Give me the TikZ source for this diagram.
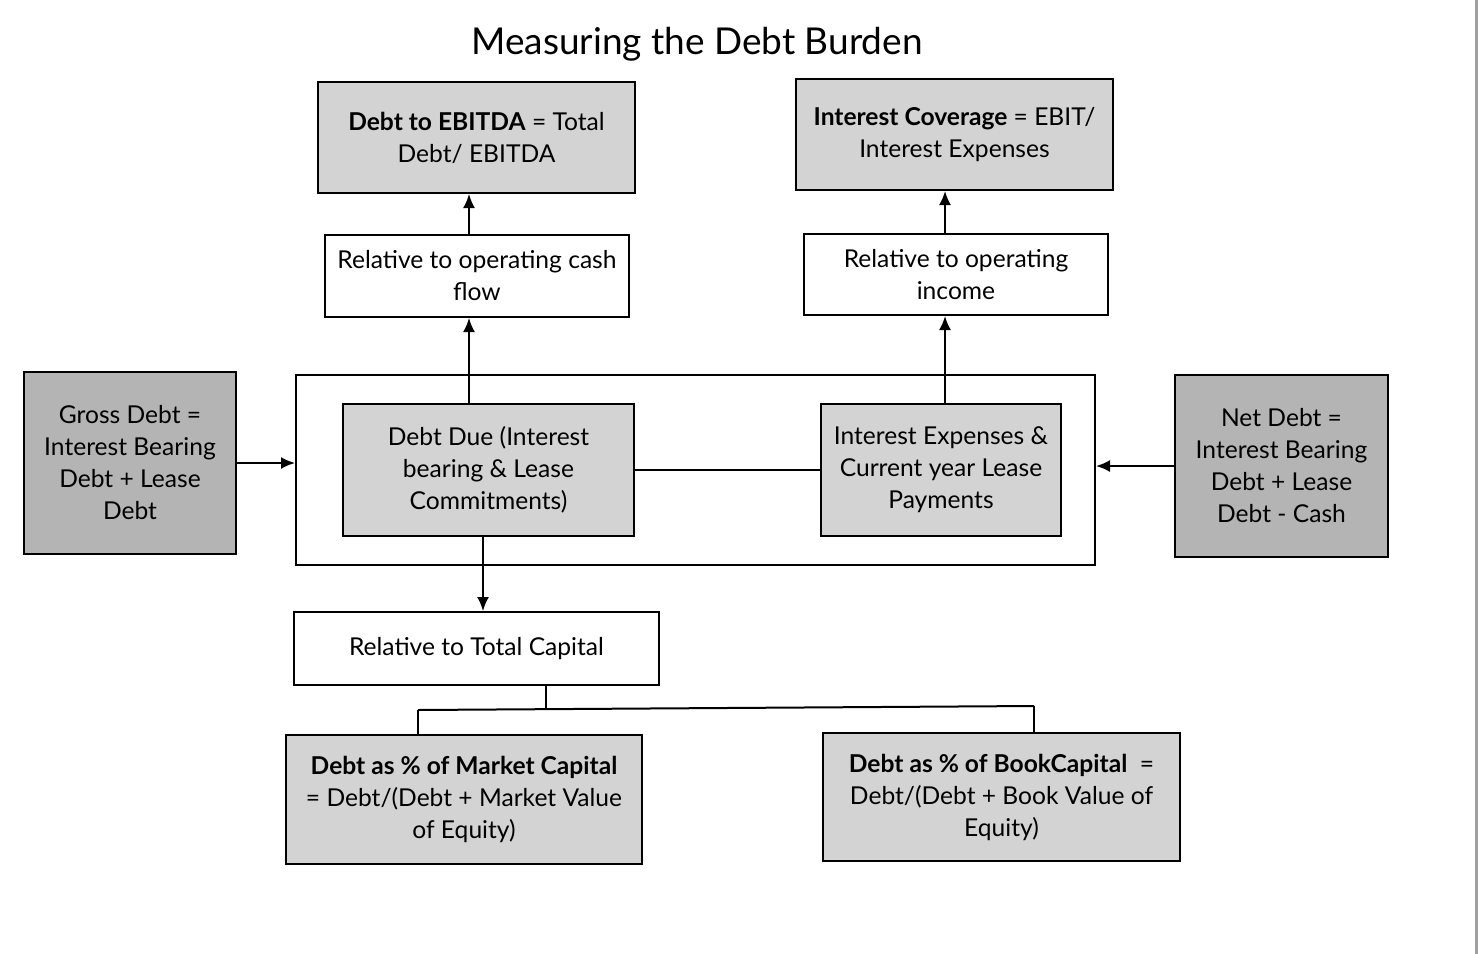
\documentclass[tikz,border=0pt]{standalone}
\usepackage{fontspec}
\setmainfont{Lato}
\usetikzlibrary{arrows.meta}
\definecolor{boxgray}{RGB}{211,211,211}
\definecolor{sidegray}{RGB}{180,180,180}
\definecolor{edgegray}{RGB}{160,160,160}
\tikzset{
  box/.style={draw, line width=1pt, align=center, inner sep=0pt,
    font=\fontsize{12.3}{16}\selectfont},
  shaded/.style={box, fill=boxgray},
  side/.style={box, fill=sidegray},
  link/.style={line width=1pt}
}
\begin{document}
\begin{tikzpicture}[x=0.5pt, y=-0.5pt, >={Latex[length=7pt,width=6pt]}]
  \useasboundingbox (0,0) rectangle (1480,954);
  \draw[edgegray, line width=1.5pt] (1476,0) -- (1476,954);
  \node (title) at (697,44) {\fontsize{18.5}{22}\selectfont Measuring the Debt Burden};
  % outcome measures at the top
  \node[shaded, minimum width=158.5pt, minimum height=55.5pt] (ebitda) at (476.5,137.5)
    {\textbf{Debt to EBITDA} = Total\\Debt/ EBITDA};
  \node[shaded, minimum width=158.5pt, minimum height=55.5pt] (coverage) at (954.5,134.5)
    {\textbf{Interest Coverage} = EBIT/\\Interest Expenses};
  \node[box, minimum width=152pt, minimum height=41pt] (cashflow) at (477,276)
    {Relative to operating cash\\flow};
  \node[box, minimum width=152pt, minimum height=40.5pt] (income) at (956,274.5)
    {Relative to operating\\income};
  % the debt itself
  \node[box, minimum width=399.5pt, minimum height=95pt] (frame) at (695.5,470) {};
  \node[shaded, minimum width=145.5pt, minimum height=66pt] (debtdue) at (488.5,470)
    {Debt Due (Interest\\bearing \& Lease\\Commitments)};
  \node[shaded, minimum width=120pt, minimum height=66pt] (intexp) at (941,470)
    {Interest Expenses \&\\Current year Lease\\Payments};
  \node[side, minimum width=106pt, minimum height=91pt] (gross) at (130,463)
    {Gross Debt =\\Interest Bearing\\Debt + Lease\\Debt};
  \node[side, minimum width=106.5pt, minimum height=91pt] (net) at (1281.5,466)
    {Net Debt =\\Interest Bearing\\Debt + Lease\\Debt - Cash};
  % capital based measures
  \node[box, minimum width=182.5pt, minimum height=36.5pt] (totalcap) at (476.5,648.5)
    {Relative to Total Capital};
  \node[shaded, minimum width=178pt, minimum height=64.5pt] (market) at (464,799.5)
    {\textbf{Debt as \% of Market Capital}\\= Debt/(Debt + Market Value\\of Equity)};
  \node[shaded, minimum width=178.5pt, minimum height=64pt] (book) at (1001.5,797)
    {\textbf{Debt as \% of BookCapital}\ \ =\\Debt/(Debt + Book Value of\\Equity)};
  \coordinate (splitl) at (418,710);
  \coordinate (splitm) at (546,708.5);
  \coordinate (splitr) at (1034,706);
  % connectors
  \draw[link, ->] ([xshift=-9.75pt]debtdue.north) -- ([xshift=-4pt]cashflow.south);
  \draw[link, ->] ([xshift=-4pt]cashflow.north) -- ([xshift=-3.75pt]ebitda.south);
  \draw[link, ->] ([xshift=2pt]intexp.north) -- ([xshift=-5.5pt]income.south);
  \draw[link, ->] ([xshift=-5.5pt]income.north) -- ([xshift=-4.75pt]coverage.south);
  \draw[link] (debtdue.east) -- (intexp.west);
  \draw[link, ->] (gross.east) -- (gross.east -| frame.west);
  \draw[link, ->] (net.west) -- (net.west -| frame.east);
  \draw[link, ->] ([xshift=-2.75pt]debtdue.south) -- ([xshift=3.25pt]totalcap.north);
  \draw[link] ([xshift=34.75pt]totalcap.south) -- (splitm);
  \draw[link] (splitl) -- (splitr);
  \draw[link] (splitl) -- ([xshift=-23pt]market.north);
  \draw[link] (splitr) -- ([xshift=16.25pt]book.north);
\end{tikzpicture}
\end{document}
